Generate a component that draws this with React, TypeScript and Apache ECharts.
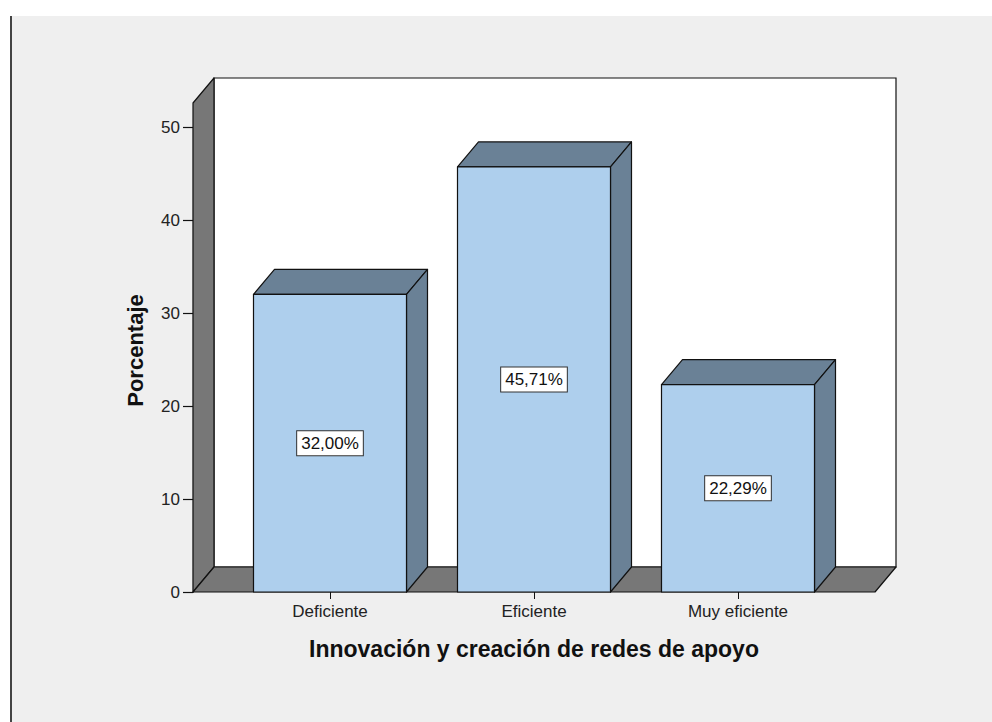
import React, { useEffect, useRef } from "react";
import * as echarts from "echarts";

const categories = ["Deficiente", "Eficiente", "Muy eficiente"];
const percentages = [32.0, 45.71, 22.29];
const yTicks = { min: 0, max: 50, interval: 10 };
const xTitle = "Innovación y creación de redes de apoyo";
const yTitle = "Porcentaje";

const FONT = "Liberation Sans";
const DX = 21;
const DY = 25;
const PAD = 35;
const EXT = 24;
const FRONT = "#aecfed";
const DARK = "#6a8196";
const WALL = "#777777";
const LINE = "#111111";

export default function App() {
  const ref = useRef<HTMLDivElement>(null);
  useEffect(() => {
    document.body.style.margin = "0";
    if (!ref.current) return;
    const chart = echarts.init(ref.current, undefined, { renderer: "svg" });

    const frameItem = (params: any, api: any) => {
      const cs = params.coordSys;
      const l = cs.x - PAD;
      const r = cs.x + cs.width + PAD;
      const b = cs.y + cs.height;
      const t = cs.y - EXT;
      return {
        type: "group",
        children: [
          {
            type: "rect",
            shape: { x: l + DX, y: t - DY, width: r - l, height: b - t },
            style: { fill: "#ffffff", stroke: LINE, lineWidth: 1.2 },
          },
          {
            type: "polygon",
            shape: { points: [[l, b], [l, t], [l + DX, t - DY], [l + DX, b - DY]] },
            style: { fill: WALL, stroke: LINE, lineWidth: 1.2, lineJoin: "round" },
          },
          {
            type: "polygon",
            shape: { points: [[l, b], [r, b], [r + DX, b - DY], [l + DX, b - DY]] },
            style: { fill: WALL, stroke: LINE, lineWidth: 1.2, lineJoin: "round" },
          },
        ],
      };
    };

    const barItem = (params: any, api: any) => {
      const idx = api.value(0);
      const v = api.value(1);
      const top = api.coord([idx, v]);
      const base = api.coord([idx, 0]);
      const bw = api.size([1, 0])[0] * 0.75;
      const x0 = top[0] - bw / 2;
      const x1 = top[0] + bw / 2;
      const yt = top[1];
      const yb = base[1];
      const mid = api.coord([idx, v / 2]);
      const label = v.toFixed(2).replace(".", ",") + "%";
      const st = { stroke: LINE, lineWidth: 1.2, lineJoin: "round" };
      return {
        type: "group",
        children: [
          {
            type: "polygon",
            shape: { points: [[x0, yt], [x1, yt], [x1 + DX, yt - DY], [x0 + DX, yt - DY]] },
            style: { fill: DARK, ...st },
          },
          {
            type: "polygon",
            shape: { points: [[x1, yt], [x1 + DX, yt - DY], [x1 + DX, yb - DY], [x1, yb]] },
            style: { fill: DARK, ...st },
          },
          {
            type: "rect",
            shape: { x: x0, y: yt, width: bw, height: yb - yt },
            style: { fill: FRONT, ...st },
          },
          {
            type: "text",
            x: mid[0],
            y: mid[1],
            style: {
              text: label,
              fontFamily: FONT,
              fontSize: 17,
              fill: "#111",
              align: "center",
              verticalAlign: "middle",
              backgroundColor: "#ffffff",
              borderColor: "#333",
              borderWidth: 1,
              padding: [4, 4, 3, 4],
            },
          },
        ],
      };
    };

    chart.setOption({
      animation: false,
      backgroundColor: "#ffffff",
      graphic: [
        {
          type: "rect",
          z: 0,
          shape: { x: 12, y: 16, width: 980, height: 706 },
          style: { fill: "#efefef" },
        },
        {
          type: "rect",
          z: 0,
          shape: { x: 10, y: 16, width: 2, height: 706 },
          style: { fill: "#444" },
        },
      ],
      grid: { left: 228, right: 152, top: 127, bottom: 130, containLabel: false },
      xAxis: {
        type: "category",
        data: categories,
        name: xTitle,
        nameLocation: "middle",
        nameGap: 45,
        nameTextStyle: { fontFamily: FONT, fontSize: 23, fontWeight: "bold", color: "#111" },
        axisLine: { show: false },
        axisTick: { show: true, alignWithLabel: true, length: 7, lineStyle: { color: LINE } },
        axisLabel: { fontFamily: FONT, fontSize: 17, color: "#222", margin: 11 },
        splitLine: { show: false },
      },
      yAxis: {
        type: "value",
        min: yTicks.min,
        max: yTicks.max,
        interval: yTicks.interval,
        offset: PAD,
        name: yTitle,
        nameLocation: "middle",
        nameGap: 47,
        nameTextStyle: {
          fontFamily: FONT,
          fontSize: 22,
          fontWeight: "bold",
          color: "#111",
          padding: [0, 0, 0, 18],
        },
        axisLine: { show: true, lineStyle: { color: LINE, width: 1.2 } },
        axisTick: { show: true, inside: false, length: 10, lineStyle: { color: LINE, width: 1.2 } },
        axisLabel: { fontFamily: FONT, fontSize: 17, color: "#222", margin: 13 },
        splitLine: { show: false },
      },
      series: [
        {
          type: "custom",
          z: 1,
          clip: false,
          silent: true,
          renderItem: frameItem,
          data: [[0, 0]],
        },
        {
          type: "custom",
          z: 3,
          clip: false,
          renderItem: barItem,
          data: percentages.map((p, i) => [i, p]),
        },
      ],
    });
    return () => chart.dispose();
  }, []);
  return <div ref={ref} style={{ width: 992, height: 722 }} />;
}
